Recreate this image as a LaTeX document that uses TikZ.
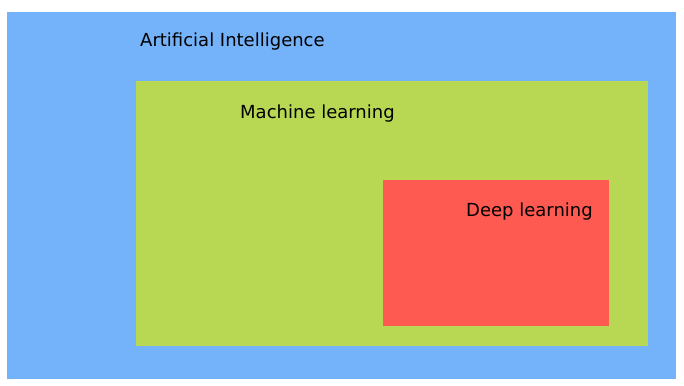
\documentclass[tikz,border=0pt]{standalone}
\usepackage{fontspec}
\setmainfont{DejaVu Sans}
\definecolor{aiblue}{RGB}{116,178,250}
\definecolor{mlgreen}{RGB}{184,216,84}
\definecolor{dlred}{RGB}{255,90,82}
\tikzset{
  lbl/.style={anchor=base west, inner sep=0pt, font=\fontsize{18}{20}\selectfont, text=black},
}
\begin{document}
\begin{tikzpicture}[x=1pt,y=-1pt]
\useasboundingbox (0,0) rectangle (684,385);
\fill[white] (0,0) rectangle (684,385);
\node[fill=aiblue, minimum width=669pt, minimum height=367pt, inner sep=0pt, anchor=north west] (ai) at (7,12) {};
\node[fill=mlgreen, minimum width=512pt, minimum height=265pt, inner sep=0pt, anchor=north west] (ml) at (136,81) {};
\node[fill=dlred, minimum width=226pt, minimum height=146pt, inner sep=0pt, anchor=north west] (dl) at (383,180) {};
\node[lbl] (ait) at (140,47) {Artificial Intelligence};
\node[lbl] (mlt) at (240,118) {Machine learning};
\node[lbl] (dlt) at (466,216) {Deep learning};
\end{tikzpicture}
\end{document}
